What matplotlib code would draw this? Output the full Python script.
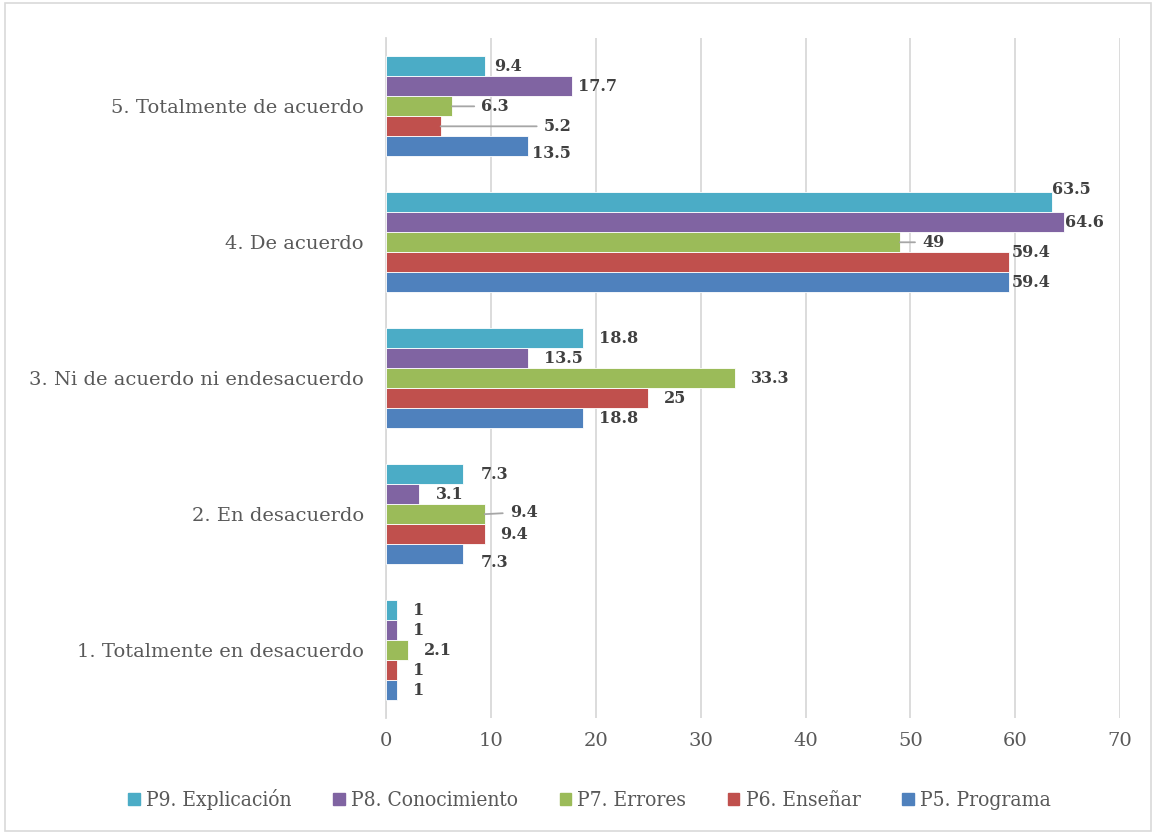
import numpy as np
import matplotlib
matplotlib.use("Agg")
import matplotlib.pyplot as plt
from matplotlib.patches import Rectangle

categories = ["1. Totalmente en desacuerdo", "2. En desacuerdo",
              "3. Ni de acuerdo ni endesacuerdo", "4. De acuerdo",
              "5. Totalmente de acuerdo"]
series = ["P5. Programa", "P6. Enseñar", "P7. Errores",
          "P8. Conocimiento", "P9. Explicación"]
p5 = [1, 7.3, 18.8, 59.4, 13.5]
p6 = [1, 9.4, 25, 59.4, 5.2]
p7 = [2.1, 9.4, 33.3, 49, 6.3]
p8 = [1, 3.1, 13.5, 64.6, 17.7]
p9 = [1, 7.3, 18.8, 63.5, 9.4]
values = [p5, p6, p7, p8, p9]
colors = ["#4F81BD", "#C0504D", "#9BBB59", "#8064A2", "#4BACC6"]

# label offsets in pixels (dx, dy, leader line) keyed by (category, series)
label_pos = {
    (4, 4): (9, 0, False), (4, 3): (6, 0, False), (4, 2): (29, 0, True),
    (4, 1): (103, 0, True), (4, 0): (4, -7, False),
    (3, 4): (0, 13, False), (3, 3): (1, 0, False), (3, 2): (22, 0, True),
    (3, 1): (3, 10, False), (3, 0): (3, 0, False),
    (1, 4): (18, 0, False), (1, 3): (17, 0, False), (1, 2): (25, 2, True),
    (1, 1): (15, 0, False), (1, 0): (18, -8, False),
}

fig = plt.figure(figsize=(11.56, 8.34), dpi=100)
ax = fig.add_axes([0.334, 0.139, 0.635, 0.815])
fig.patches.append(Rectangle((0.004, 0.004), 0.992, 0.992, transform=fig.transFigure,
                             fill=False, edgecolor="#d9d9d9", linewidth=1.2))

h = 0.147
y = np.arange(len(categories))
for i, (vals, col) in enumerate(zip(values, colors)):
    pos = y + (i - 2) * h
    ax.barh(pos, vals, height=h, color=col, edgecolor="white", linewidth=0.6, zorder=3)
    for c, (v, yy) in enumerate(zip(vals, pos)):
        dx, dy, leader = label_pos.get((c, i), (16, 0, False))
        txt = f"{v:g}"
        kw = dict(textcoords="offset points", va="center", ha="left",
                  fontsize=11.5, fontweight="bold", color="#404040",
                  family="DejaVu Serif")
        if leader:
            kw["arrowprops"] = dict(arrowstyle="-", color="#a6a6a6", lw=1.3,
                                    shrinkA=3, shrinkB=0)
        ax.annotate(txt, xy=(v, yy), xytext=(dx * 0.72, dy * 0.72), **kw)

ax.set_xlim(0, 70)
ax.set_ylim(-0.5, 4.5)
ax.set_xticks(range(0, 71, 10))
ax.set_yticks(y)
ax.set_yticklabels(categories, family="DejaVu Serif", fontsize=14, color="#595959")
for lab in ax.get_xticklabels():
    lab.set_family("DejaVu Serif")
    lab.set_fontsize(14)
    lab.set_color("#595959")
ax.tick_params(length=0, pad=10)
ax.tick_params(axis="y", pad=16)
ax.grid(axis="x", color="#d9d9d9", linewidth=1.3, zorder=0)
for s in ["top", "right", "bottom"]:
    ax.spines[s].set_visible(False)
ax.spines["left"].set_color("#d9d9d9")
ax.spines["left"].set_linewidth(1.3)

handles = [Rectangle((0, 0), 1, 1, color=colors[i]) for i in range(4, -1, -1)]
labels = [series[i] for i in range(4, -1, -1)]
fig.legend(handles, labels, loc="center", bbox_to_anchor=(0.51, 0.041), ncol=5,
           frameon=False, handlelength=0.55, handleheight=0.55, handletextpad=0.3,
           columnspacing=2.0, prop=dict(family="DejaVu Serif", size=15, stretch="condensed"),
           labelcolor="#595959")

fig.savefig("out.png", dpi=100)
